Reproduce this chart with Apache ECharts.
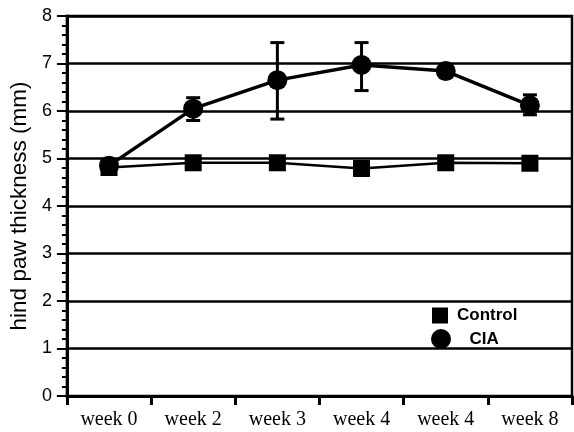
<!DOCTYPE html>
<html>
<head>
<meta charset="utf-8">
<script src="https://cdn.jsdelivr.net/npm/echarts@6/dist/echarts.min.js"></script>
<style>html,body{margin:0;padding:0;background:#fff}#c{width:574px;height:432px}</style>
</head>
<body>
<div id="c"></div>
<script>
const categories = ['week 0', 'week 2', 'week 3', 'week 4', 'week 4', 'week 8'];
const controlValues = [4.81, 4.91, 4.91, 4.79, 4.91, 4.90];
const ciaValues = [4.85, 6.05, 6.65, 6.97, 6.84, 6.12];
const ciaHigh = [4.85, 6.28, 7.44, 7.44, 6.95, 6.34];
const ciaLow = [4.85, 5.80, 5.83, 6.43, 6.73, 5.92];
const yTicks = [0, 1, 2, 3, 4, 5, 6, 7, 8];

const errData = categories.map((c, i) => [i, ciaLow[i], ciaHigh[i]]);

const chart = echarts.init(document.getElementById('c'), null, {renderer: 'canvas'});
chart.setOption({
  animation: false,
  backgroundColor: '#fff',
  grid: {left: 65, right: 2, top: 16, bottom: 36, show: true, borderColor: '#000', borderWidth: 2.5, backgroundColor: 'transparent'},
  legend: [
    {data: ['Control'], left: 427, top: 302, orient: 'vertical', icon: 'rect', itemWidth: 16, itemHeight: 16,
     textStyle: {fontFamily: 'Liberation Sans, Arial', fontWeight: 'bold', fontSize: 17, color: '#000', padding: [0, 0, 0, 4]}},
    {data: ['CIA'], left: 426, top: 324, orient: 'vertical', icon: 'circle', itemWidth: 21, itemHeight: 20,
     textStyle: {fontFamily: 'Liberation Sans, Arial', fontWeight: 'bold', fontSize: 17, color: '#000', padding: [4, 0, 0, 13]}}
  ],
  xAxis: {
    type: 'category', data: categories, boundaryGap: true,
    axisLine: {lineStyle: {color: '#000', width: 3}},
    axisTick: {show: true, length: 9, lineStyle: {color: '#000', width: 3}},
    axisLabel: {color: '#000', fontFamily: 'Liberation Serif, Times New Roman', fontSize: 20, margin: 14},
    splitLine: {show: false}
  },
  yAxis: {
    type: 'value', min: yTicks[0], max: yTicks[yTicks.length - 1], interval: 1,
    name: 'hind paw thickness (mm)', nameLocation: 'middle', nameGap: 27,
    nameTextStyle: {color: '#000', fontFamily: 'Liberation Sans, Arial', fontSize: 22.5},
    axisLine: {show: true, lineStyle: {color: '#000', width: 3}},
    axisTick: {show: true, length: 10, lineStyle: {color: '#000', width: 2}},
    minorTick: {show: true, splitNumber: 5, length: 5, lineStyle: {color: '#000', width: 2}},
    axisLabel: {color: '#000', fontFamily: 'Liberation Sans, Arial', fontSize: 18, margin: 15},
    splitLine: {show: true, lineStyle: {color: '#000', width: 2.5}}
  },
  series: [
    {
      name: 'CIA', type: 'line', data: ciaValues, symbol: 'circle', symbolSize: 20,
      lineStyle: {color: '#000', width: 3.5}, itemStyle: {color: '#000'}, z: 3
    },
    {
      name: 'CIA err', type: 'custom', data: errData, z: 4,
      renderItem: function (params, api) {
        const x = api.value(0);
        const lo = api.coord([x, api.value(1)]);
        const hi = api.coord([x, api.value(2)]);
        if (Math.abs(lo[1] - hi[1]) < 1) return null;
        const hw = 7;
        const st = {stroke: '#000', lineWidth: 3};
        return {type: 'group', children: [
          {type: 'line', shape: {x1: lo[0], y1: lo[1], x2: hi[0], y2: hi[1]}, style: st},
          {type: 'line', shape: {x1: lo[0] - hw, y1: lo[1], x2: lo[0] + hw, y2: lo[1]}, style: st},
          {type: 'line', shape: {x1: hi[0] - hw, y1: hi[1], x2: hi[0] + hw, y2: hi[1]}, style: st}
        ]};
      }
    },
    {
      name: 'Control', type: 'line', data: controlValues, symbol: 'rect', symbolSize: 17,
      lineStyle: {color: '#000', width: 2.5}, itemStyle: {color: '#000'}, z: 5
    }
  ]
});
</script>
</body>
</html>
